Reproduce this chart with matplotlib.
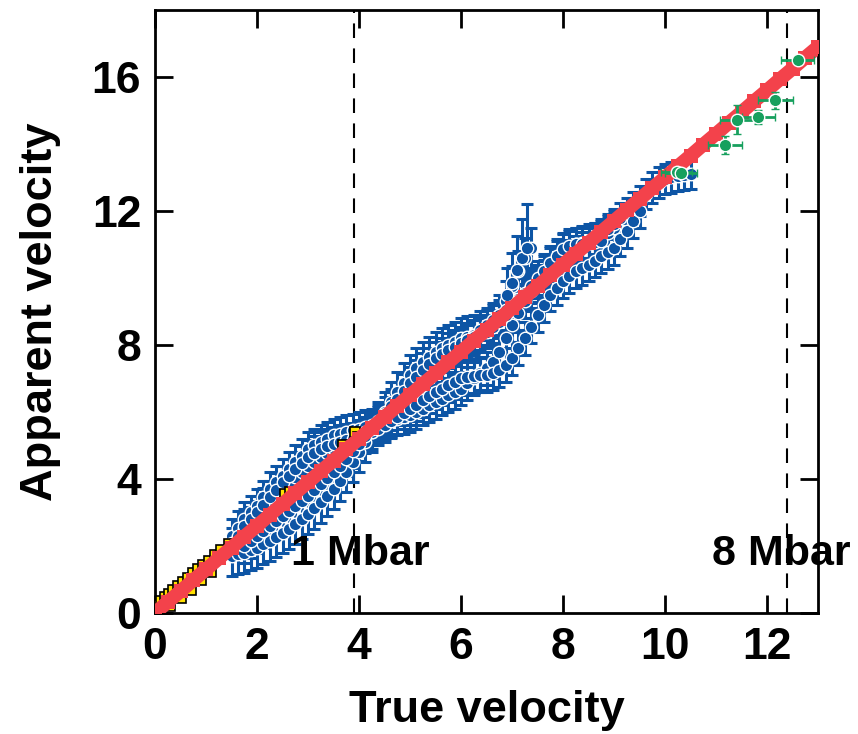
import matplotlib
matplotlib.use("Agg")
import matplotlib.pyplot as plt
import numpy as np

plt.rcParams['font.family'] = ['Liberation Sans', 'DejaVu Sans']
plt.rcParams['font.weight'] = 'bold'

# blue: wavy data series sampled on a shared velocity grid (None = no point)
blue_x = [1.5, 1.625, 1.75, 1.875, 2.0, 2.125, 2.25, 2.375, 2.5, 2.625,
          2.75, 2.875, 3.0, 3.125, 3.25, 3.375, 3.5, 3.625, 3.75, 3.875,
          4.0, 4.125, 4.25, 4.375, 4.5, 4.625, 4.75, 4.875, 5.0, 5.125,
          5.25, 5.375, 5.5, 5.625, 5.75, 5.875, 6.0, 6.125, 6.25, 6.375,
          6.5, 6.625, 6.75, 6.875, 7.0, 7.125, 7.25, 7.375, 7.5, 7.625,
          7.75, 7.875, 8.0, 8.125, 8.25, 8.375, 8.5, 8.625, 8.75, 8.875,
          9.0, 9.125, 9.25, 9.375, 9.5, 9.625, 9.75, 9.875, 10.0, 10.125,
          10.25, 10.375, 10.5]
blue1_y = [2.3, 2.55, 2.8, 3.0, 3.2, 3.45, 3.7, 3.9, 4.1, 4.3,
           4.5, 4.7, 4.9, 5.0, 5.1, 5.2, 5.3, 5.35, 5.4, 5.45,
           5.5, 5.55, 5.6, 5.65, 5.7, 5.75, 5.8, 5.85, 5.9, 6.0,
           6.1, 6.2, 6.3, 6.4, 6.5, 6.6, 6.7, 6.85, 7.0, 7.15,
           7.3, 7.5, 7.8, 8.2, 8.6, 8.95, 9.3, 9.6, 9.9, 10.15,
           10.4, 10.6, 10.8, 10.9, 11.0, 11.05, 11.1, 11.15, 11.2, 11.35,
           11.5, None, None, None, None, None, None, None, None, None,
           None, None, None]
blue2_y = [1.7, 1.75, 1.8, 1.88, 1.95, 2.05, 2.15, 2.27, 2.4, 2.52,
           2.65, 2.8, 2.95, 3.12, 3.3, 3.5, 3.7, 3.95, 4.2, 4.5,
           4.8, 5.1, 5.4, 5.7, 6.0, 6.3, 6.6, 6.85, 7.1, 7.3,
           7.5, 7.65, 7.8, 7.9, 8.0, 8.1, 8.2, 8.25, 8.3, 8.4,
           8.5, 8.65, 8.9, 9.3, 9.75, 10.2, 10.6, 10.9, None, None,
           None, None, None, None, None, None, None, None, None, None,
           None, None, None, None, None, None, None, None, None, None,
           None, None, None]
blue3_y = [2.1, 2.3, 2.5, 2.7, 2.9, 3.1, 3.3, 3.5, 3.7, 3.88,
           4.05, 4.22, 4.4, 4.52, 4.65, 4.78, 4.9, 5.0, 5.1, 5.2,
           5.3, 5.4, 5.5, 5.62, 5.75, 5.9, 6.05, 6.22, 6.4, 6.6,
           6.8, 7.02, 7.25, 7.45, 7.65, 7.82, 8.0, 8.15, 8.3, 8.45,
           8.6, 8.75, 8.9, 9.05, 9.2, 9.38, 9.55, 9.72, 9.9, 10.08,
           10.25, 10.4, 10.55, 10.68, 10.8, 10.92, 11.05, 11.18, 11.3, 11.45,
           11.6, 11.78, 11.95, 12.12, 12.3, 12.5, 12.7, 12.85, 12.95, 13.0,
           13.05, 13.08, 13.1]
blue4_y = [None, None, 2.6, 2.8, 3.0, 3.22, 3.45, 3.68, 3.9, 4.1,
           4.3, 4.48, 4.65, 4.78, 4.9, 4.98, 5.05, 5.1, 5.15, 5.18,
           5.2, 5.3, 5.4, 5.5, 5.6, 5.72, 5.85, 5.98, 6.1, 6.22,
           6.35, 6.48, 6.6, 6.7, 6.8, 6.9, 7.0, 7.05, 7.08, 7.1,
           7.1, 7.15, 7.25, 7.4, 7.6, 7.9, 8.2, 8.55, 8.9, 9.2,
           9.5, 9.7, 9.9, 10.05, 10.2, 10.3, 10.4, 10.52, 10.65, 10.78,
           10.9, 11.15, 11.4, 11.7, 12.0, None, None, None, None, None,
           None, None, None]
blue5_y = [None, None, 2.0, 2.15, 2.3, 2.45, 2.6, 2.75, 2.9, 3.05,
           3.2, 3.35, 3.5, 3.68, 3.85, 4.02, 4.2, 4.4, 4.6, 4.82,
           5.05, 5.28, 5.5, 5.72, 5.95, 6.18, 6.4, 6.62, 6.85, 7.05,
           7.25, 7.42, 7.6, 7.72, 7.85, 7.95, 8.05, 8.15, 8.25, 8.32,
           8.4, 8.55, 8.7, 8.9, 9.1, 9.3, 9.5, 9.75, 10.0, 10.22,
           10.45, 10.65, 10.85, 10.95, 11.0, 11.02, 11.05, 11.08, 11.1, None,
           None, None, None, None, None, None, None, None, None, None,
           None, None, None]
blue_err = [0.5, 0.6, 0.45, 0.5, 0.5]

# top of the steep rise near 7, which carries the largest error bars
steep_x = [6.9, 7.0, 7.1, 7.2, 7.3]
steep_y = [9.5, 9.85, 10.25, 10.6, 10.9]
steep_err = [0.8, 0.9, 1.0, 1.15, 1.3]

# red reference line (square markers)
red_x = [0, 0.25, 0.5, 0.75, 1.0, 1.25, 1.5, 1.75, 2.0, 2.25, 2.5, 2.75, 3.0, 3.25, 3.5, 3.75,
         4.0, 4.25, 4.5, 4.75, 5.0, 5.25, 5.5, 5.75, 6.0, 6.25, 6.5, 6.75, 7.0, 7.25, 7.5, 7.75,
         8.0, 8.25, 8.5, 8.75, 9.0, 9.25, 9.5, 9.75, 10.0, 10.25, 10.5, 10.75, 11.0, 11.25, 11.5,
         11.75, 12.0, 12.25, 12.5, 12.75, 13.0]
red_y = [0, 0.33, 0.65, 0.98, 1.3, 1.63, 1.95, 2.28, 2.6, 2.93, 3.25, 3.58, 3.9, 4.23, 4.55, 4.88,
         5.2, 5.53, 5.85, 6.18, 6.5, 6.83, 7.15, 7.48, 7.8, 8.13, 8.45, 8.78, 9.1, 9.43, 9.75, 10.08,
         10.4, 10.73, 11.05, 11.38, 11.7, 12.03, 12.35, 12.68, 13.0, 13.33, 13.65, 13.98, 14.3, 14.63,
         14.95, 15.28, 15.6, 15.93, 16.25, 16.58, 16.9]

# yellow squares
yel_x = [0.05, 0.12, 0.2, 0.28, 0.36, 0.45, 0.55, 0.65, 0.75, 0.85, 0.95, 1.05, 1.18, 1.3, 1.45,
         0.3, 0.5, 0.7, 0.9, 1.1, 2.55, 2.65, 3.68, 3.92, 3.98]
yel_y = [0.25, 0.36, 0.47, 0.57, 0.68, 0.8, 0.92, 1.05, 1.18, 1.3, 1.42, 1.55, 1.72, 1.88, 2.07,
         0.2, 0.45, 0.7, 0.97, 1.22, 3.55, 3.6, 5.0, 5.4, 5.25]

# green points
grn_x = [10.23, 10.31, 11.18, 11.42, 11.83, 12.16, 12.6]
grn_y = [13.17, 13.12, 13.98, 14.73, 14.8, 15.3, 16.5]
grn_xerr = [0.3, 0.32, 0.33, 0.34, 0.33, 0.34, 0.33]
grn_yerr = [0.05, 0.05, 0.27, 0.43, 0.2, 0.25, 0.05]

pressure_x = [3.9, 12.4]
pressure_lbl = ['1 Mbar', '8 Mbar']
label_x = [4.02, 12.28]

blue = '#0D55A5'
red = '#F3424B'
fig = plt.figure(figsize=(8.58, 7.34), dpi=100)
ax = fig.add_axes([0.1807, 0.1649, 0.7727, 0.8215])

bx = np.array(blue_x)
blue_sets = [blue1_y, blue2_y, blue3_y, blue4_y, blue5_y]
for ys, e in zip(blue_sets, blue_err):
    ax.errorbar(bx, np.array(ys, dtype=float), yerr=e, fmt='none', ecolor=blue,
                elinewidth=2.2, capsize=4, capthick=2.2, zorder=2)
ax.errorbar(steep_x, steep_y, yerr=steep_err, fmt='none', ecolor=blue,
            elinewidth=2.2, capsize=4, capthick=2.2, zorder=2)
for ys in blue_sets:
    ax.plot(bx, np.array(ys, dtype=float), 'o', color=blue, ms=9, mec='white', mew=1, zorder=3)
ax.plot(steep_x, steep_y, 'o', color=blue, ms=9, mec='white', mew=1, zorder=3)

ax.plot(yel_x, yel_y, 's', color='#FFE000', ms=7.5, mec='black', mew=1.2, zorder=4)
ax.plot(red_x, red_y, '-', color=red, lw=10, solid_capstyle='butt', zorder=5)
ax.plot(red_x, red_y, 's', color=red, ms=10.5, mew=0, zorder=5)

ax.errorbar(grn_x, grn_y, xerr=grn_xerr, yerr=grn_yerr, fmt='o', color='#17A05E', ms=9,
            mec='white', mew=1, elinewidth=2, capsize=3, capthick=2, zorder=6)

for px, tx, lbl in zip(pressure_x, label_x, pressure_lbl):
    ax.axvline(px, color='black', lw=1.5, dashes=(7, 5), zorder=1)
    ax.text(tx, 1.75, lbl, fontsize=31, fontweight='bold', ha='center', va='center', zorder=7)

ax.set_xlim(0, 13)
ax.set_ylim(0, 18)
ax.set_xticks([0, 2, 4, 6, 8, 10, 12])
ax.set_yticks([0, 4, 8, 12, 16])
ax.tick_params(direction='in', length=13, width=2, labelsize=32, pad=10,
               top=True, right=True)
for lab in ax.get_xticklabels() + ax.get_yticklabels():
    lab.set_fontweight('bold')
for sp in ax.spines.values():
    sp.set_linewidth(2)

ax.set_xlabel('True velocity', fontsize=32.5, fontweight='bold', labelpad=16)
ax.set_ylabel('Apparent velocity', fontsize=32.5, fontweight='bold', labelpad=22)

fig.savefig('out.png', dpi=100)
